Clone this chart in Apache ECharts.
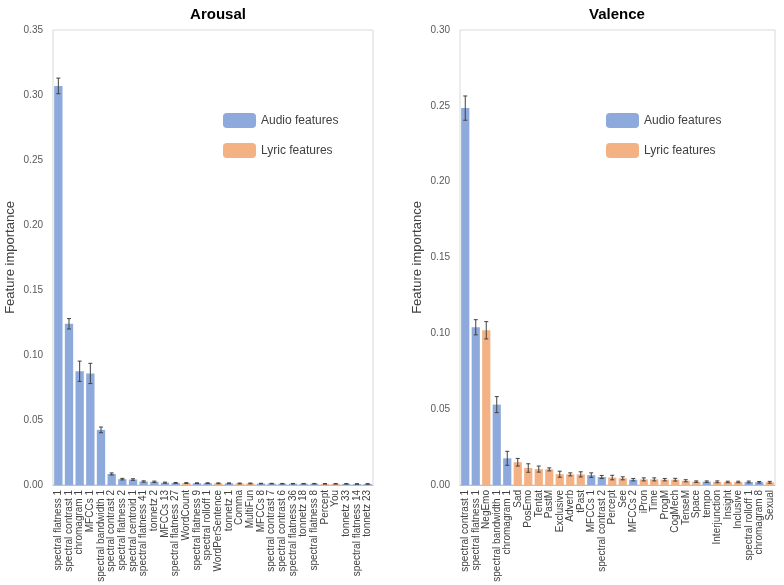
<!DOCTYPE html>
<html><head><meta charset="utf-8">
<script src="https://cdn.jsdelivr.net/npm/echarts@6/dist/echarts.min.js"></script>
<style>html,body{margin:0;padding:0;background:#fff}#c{width:784px;height:585px}</style>
</head><body><div id="c"></div>
<script>
const arousalCats = ["spectral flatness 1","spectral contrast 1","chromagram 1","MFCCs 1","spectral bandwidth 1","spectral contrast 2","spectral flatness 2","spectral centroid 1","spectral flatness 41","tonnetz 2","MFCCs 13","spectral flatness 27","WordCount","spectral flatness 9","spectral rolloff 1","WordPerSentence","tonnetz 1","Comma","MultiFun","MFCCs 8","spectral contrast 7","spectral contrast 6","spectral flatness 36","tonnetz 18","spectral flatness 8","Percept","You","tonnetz 33","spectral flatness 14","tonnetz 23"];
const arousalVals = [0.307,0.124,0.0875,0.0858,0.0424,0.0085,0.0045,0.0042,0.0027,0.0025,0.0018,0.0016,0.0015,0.0014,0.0014,0.0013,0.0013,0.0012,0.0012,0.0011,0.0011,0.0010,0.0010,0.0010,0.0010,0.0009,0.0009,0.0009,0.0008,0.0008];
const arousalErr = [0.006,0.004,0.0078,0.0078,0.0022,0.0008,0.0006,0.0006,0.0005,0.0005,0.0004,0.0003,0.0003,0.0003,0.0003,0.0003,0.0003,0.0003,0.0003,0.0002,0.0002,0.0002,0.0002,0.0002,0.0002,0.0002,0.0002,0.0002,0.0002,0.0002];
const arousalType = ["A","A","A","A","A","A","A","A","A","A","A","A","L","A","A","L","A","L","L","A","A","A","A","A","A","L","L","A","A","A"];

const valenceCats = ["spectral contrast 1","spectral flatness 1","NegEmo","spectral bandwidth 1","chromagram 1","Sad","PosEmo","Tentat","PastM","Exclusive","Adverb","tPast","MFCCs 1","spectral contrast 2","Percept","See","MFCCs 2","iPron","Time","ProgM","CogMech","TenseM","Space","tempo","Interjunction","Insight","Inclusive","spectral rolloff 1","chromagram 8","Sexual"];
const valenceVals = [0.2485,0.104,0.102,0.053,0.0176,0.015,0.0112,0.0105,0.0103,0.0071,0.0070,0.0070,0.0065,0.0053,0.0049,0.0044,0.0035,0.0037,0.0037,0.0035,0.0035,0.0028,0.0022,0.0022,0.0021,0.0020,0.0020,0.0020,0.0018,0.0018];
const valenceErr = [0.008,0.005,0.0057,0.0053,0.0046,0.0025,0.0028,0.002,0.001,0.002,0.001,0.0017,0.0015,0.001,0.0015,0.001,0.0008,0.001,0.001,0.0008,0.0009,0.0007,0.0005,0.0005,0.0006,0.0005,0.0005,0.0006,0.0005,0.0006];
const valenceType = ["A","A","L","A","A","L","L","L","L","L","L","L","A","A","L","L","A","L","L","L","L","L","L","A","L","L","L","A","A","L"];

const yTicksArousal = [0,0.05,0.10,0.15,0.20,0.25,0.30,0.35];
const yTicksValence = [0,0.05,0.10,0.15,0.20,0.25,0.30];

const AUDIO = '#8EA9DB', LYRIC = '#F4B183';
const FONT = '"Liberation Sans", Arial, sans-serif';

function split(vals, types, t){ return vals.map((v,i)=> types[i]===t ? v : '-'); }
function errData(vals, errs){ return vals.map((v,i)=>[i, v, errs[i]]); }
function errRender(params, api){
  const i = api.value(0), v = api.value(1), e = api.value(2);
  const hi = api.coord([i, v+e]), lo = api.coord([i, v-e]);
  const st = {stroke:'#404040', lineWidth:1};
  const cw = 2;
  return {type:'group', children:[
    {type:'line', shape:{x1:hi[0],y1:hi[1],x2:lo[0],y2:lo[1]}, style:st},
    {type:'line', shape:{x1:hi[0]-cw,y1:hi[1],x2:hi[0]+cw,y2:hi[1]}, style:st},
    {type:'line', shape:{x1:lo[0]-cw,y1:lo[1],x2:lo[0]+cw,y2:lo[1]}, style:st}
  ]};
}
function xAx(cats, gi){
  return {type:'category', gridIndex:gi, data:cats,
    axisLine:{show:true, lineStyle:{color:'#BFBFBF'}}, axisTick:{show:false},
    axisLabel:{interval:0, rotate:90, fontSize:10, color:'#404040', fontFamily:FONT, margin:5}};
}
function yAx(ticks, gi){
  return {type:'value', gridIndex:gi, min:ticks[0], max:ticks[ticks.length-1], interval:ticks[1]-ticks[0],
    name:'Feature importance', nameLocation:'middle', nameGap:36,
    nameTextStyle:{fontSize:13, color:'#404040', fontFamily:FONT},
    splitLine:{show:false}, axisLine:{show:false}, axisTick:{show:false},
    axisLabel:{fontSize:10, color:'#595959', fontFamily:FONT, margin:10, formatter:v=>v.toFixed(2)}};
}
const chart = echarts.init(document.getElementById('c'));
chart.setOption({
  animation:false,
  title:[
    {text:'Arousal', left:213, top:2, textAlign:'center', textStyle:{fontSize:15, fontWeight:'bold', color:'#000', fontFamily:FONT}},
    {text:'Valence', left:612, top:2, textAlign:'center', textStyle:{fontSize:15, fontWeight:'bold', color:'#000', fontFamily:FONT}}
  ],
  legend:[
    {left:218, top:108, orient:'vertical', itemWidth:33, itemHeight:15, itemGap:15,
     textStyle:{fontSize:12, color:'#404040', fontFamily:FONT}, data:['Audio features','Lyric features'], selectedMode:false},
    {left:601, top:108, orient:'vertical', itemWidth:33, itemHeight:15, itemGap:15,
     textStyle:{fontSize:12, color:'#404040', fontFamily:FONT}, data:['Audio features','Lyric features'], selectedMode:false}
  ],
  grid:[
    {left:53, right:411, top:30, bottom:100, show:true, borderColor:'#D9D9D9', borderWidth:1},
    {left:460, right:9, top:30, bottom:100, show:true, borderColor:'#D9D9D9', borderWidth:1}
  ],
  xAxis:[xAx(arousalCats,0), xAx(valenceCats,1)],
  yAxis:[yAx(yTicksArousal,0), yAx(yTicksValence,1)],
  series:[
    {name:'Audio features', type:'bar', xAxisIndex:0, yAxisIndex:0, stack:'a', barCategoryGap:'22%', itemStyle:{color:AUDIO}, data:split(arousalVals, arousalType, 'A')},
    {name:'Lyric features', type:'bar', xAxisIndex:0, yAxisIndex:0, stack:'a', barCategoryGap:'22%', itemStyle:{color:LYRIC}, data:split(arousalVals, arousalType, 'L')},
    {type:'custom', xAxisIndex:0, yAxisIndex:0, renderItem:errRender, data:errData(arousalVals, arousalErr), z:5},
    {name:'Audio features', type:'bar', xAxisIndex:1, yAxisIndex:1, stack:'b', barCategoryGap:'22%', itemStyle:{color:AUDIO}, data:split(valenceVals, valenceType, 'A')},
    {name:'Lyric features', type:'bar', xAxisIndex:1, yAxisIndex:1, stack:'b', barCategoryGap:'22%', itemStyle:{color:LYRIC}, data:split(valenceVals, valenceType, 'L')},
    {type:'custom', xAxisIndex:1, yAxisIndex:1, renderItem:errRender, data:errData(valenceVals, valenceErr), z:5}
  ]
});
</script></body></html>
